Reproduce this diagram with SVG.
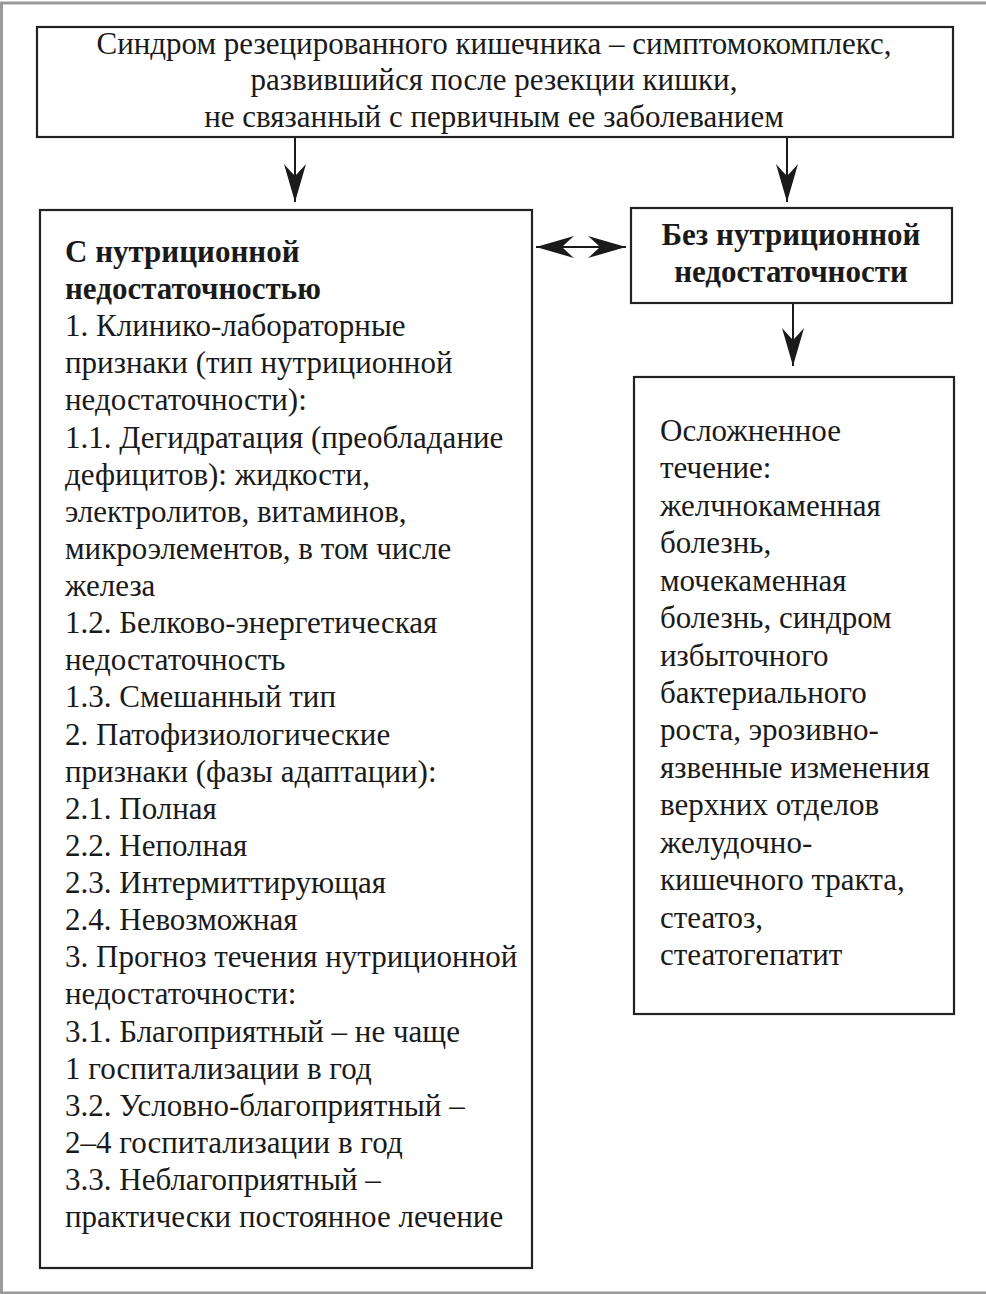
<svg xmlns="http://www.w3.org/2000/svg" width="986" height="1294" viewBox="0 0 986 1294">
<defs>
<style>
.box{fill:#fff;stroke:#222;stroke-width:2.2}
.t{font-family:"Liberation Serif","Times New Roman",serif;font-size:31px;fill:#1a1a1a}
.b{font-weight:bold}
.c{text-anchor:middle}
.ln{stroke:#1a1a1a;stroke-width:2;fill:none}
</style>
<marker id="ah" viewBox="-40 -12 41 24" refX="0" refY="0" markerWidth="41" markerHeight="24" markerUnits="userSpaceOnUse" orient="auto-start-reverse">
<path d="M0,0 L-38,-11 Q-29,-3 -26,0 Q-29,3 -38,11 Z" fill="#1a1a1a"/>
</marker>
</defs>
<rect x="1.5" y="3" width="992" height="1290" fill="#fff" stroke="#9a9a9a" stroke-width="3"/>
<g id="connectors">
<line class="ln" x1="295" y1="137" x2="295" y2="202" marker-end="url(#ah)"/>
<line class="ln" x1="787" y1="137" x2="787" y2="202" marker-end="url(#ah)"/>
<line class="ln" x1="793" y1="303" x2="793" y2="366" marker-end="url(#ah)"/>
<line class="ln" x1="536" y1="247" x2="626" y2="247" marker-start="url(#ah)" marker-end="url(#ah)"/>
</g>
<g id="top">
<rect class="box" x="37" y="27" width="916" height="110"/>
<text class="t c" x="494" y="54">Синдром резецированного кишечника – симптомокомплекс,</text>
<text class="t c" x="494" y="90">развившийся после резекции кишки,</text>
<text class="t c" x="494" y="127">не связанный с первичным ее заболеванием</text>
</g>
<g id="with">
<rect class="box" x="40" y="210" width="492" height="1058"/>
<text class="t" x="65" y="262"><tspan class="b">С нутриционной</tspan><tspan class="b" x="65" dy="37.12">недостаточностью</tspan><tspan x="65" dy="37.12">1. Клинико-лабораторные</tspan><tspan x="65" dy="37.12">признаки (тип нутриционной</tspan><tspan x="65" dy="37.12">недостаточности):</tspan><tspan x="65" dy="37.12">1.1. Дегидратация (преобладание</tspan><tspan x="65" dy="37.12">дефицитов): жидкости,</tspan><tspan x="65" dy="37.12">электролитов, витаминов,</tspan><tspan x="65" dy="37.12">микроэлементов, в том числе</tspan><tspan x="65" dy="37.12">железа</tspan><tspan x="65" dy="37.12">1.2. Белково-энергетическая</tspan><tspan x="65" dy="37.12">недостаточность</tspan><tspan x="65" dy="37.12">1.3. Смешанный тип</tspan><tspan x="65" dy="37.12">2. Патофизиологические</tspan><tspan x="65" dy="37.12">признаки (фазы адаптации):</tspan><tspan x="65" dy="37.12">2.1. Полная</tspan><tspan x="65" dy="37.12">2.2. Неполная</tspan><tspan x="65" dy="37.12">2.3. Интермиттирующая</tspan><tspan x="65" dy="37.12">2.4. Невозможная</tspan><tspan x="65" dy="37.12">3. Прогноз течения нутриционной</tspan><tspan x="65" dy="37.12">недостаточности:</tspan><tspan x="65" dy="37.12">3.1. Благоприятный – не чаще</tspan><tspan x="65" dy="37.12">1 госпитализации в год</tspan><tspan x="65" dy="37.12">3.2. Условно-благоприятный –</tspan><tspan x="65" dy="37.12">2–4 госпитализации в год</tspan><tspan x="65" dy="37.12">3.3. Неблагоприятный –</tspan><tspan x="65" dy="37.12">практически постоянное лечение</tspan></text>
</g>
<g id="without">
<rect class="box" x="631" y="208" width="321" height="95"/>
<text class="t b c" x="791" y="245">Без нутриционной</text>
<text class="t b c" x="791" y="282">недостаточности</text>
</g>
<g id="complicated">
<rect class="box" x="634" y="377" width="320" height="637"/>
<text class="t" x="660" y="441"><tspan>Осложненное</tspan><tspan x="660" dy="37.43">течение:</tspan><tspan x="660" dy="37.43">желчнокаменная</tspan><tspan x="660" dy="37.43">болезнь,</tspan><tspan x="660" dy="37.43">мочекаменная</tspan><tspan x="660" dy="37.43">болезнь, синдром</tspan><tspan x="660" dy="37.43">избыточного</tspan><tspan x="660" dy="37.43">бактериального</tspan><tspan x="660" dy="37.43">роста, эрозивно-</tspan><tspan x="660" dy="37.43">язвенные изменения</tspan><tspan x="660" dy="37.43">верхних отделов</tspan><tspan x="660" dy="37.43">желудочно-</tspan><tspan x="660" dy="37.43">кишечного тракта,</tspan><tspan x="660" dy="37.43">стеатоз,</tspan><tspan x="660" dy="37.43">стеатогепатит</tspan></text>
</g>
</svg>
